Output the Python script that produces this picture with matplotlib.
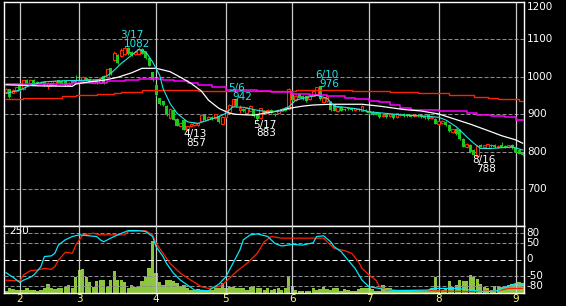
import numpy as np
import matplotlib
matplotlib.use("Agg")
import matplotlib.pyplot as plt
import matplotlib.transforms as mtransforms

plt.rcParams["font.family"] = ["DejaVu Sans"]

# daily candles, index 0 = last days of January
opens = [960, 967, 958, 963, 977, 967, 993, 983, 993, 987,
         983, 986, 977, 985, 979, 991, 990, 988, 978, 990,
         992, 986, 988, 998, 994, 985, 993, 985, 1002, 1000,
         1023, 1045, 1058, 1055, 1062, 1078, 1066, 1060, 1062, 1075,
         1066, 1050, 1012, 978, 943, 935, 922, 890, 912, 888,
         870, 886, 858, 868, 871, 872, 883, 898, 888, 893,
         890, 896, 875, 893, 907, 922, 940, 912, 915, 905,
         910, 912, 898, 890, 910, 903, 912, 902, 905, 910,
         918, 915, 958, 938, 955, 950, 948, 940, 950, 955,
         975, 932, 935, 933, 925, 908, 920, 915, 918, 916,
         912, 915, 910, 912, 910, 906, 904, 903, 895, 903,
         896, 900, 893, 898, 902, 900, 898, 895, 899, 897,
         896, 900, 889, 888, 873, 876, 880, 872, 852, 862,
         858, 834, 812, 818, 806, 790, 818, 813, 811, 818,
         818, 812, 818, 816, 812, 818, 810, 805, 797]
highs = [970, 968, 968, 973, 979, 993, 995, 995, 995, 989,
         989, 988, 986, 987, 992, 993, 992, 990, 986, 992,
         1005, 992, 1002, 1000, 996, 995, 995, 998, 1004, 1022,
         1025, 1068, 1060, 1076, 1082, 1080, 1070, 1068, 1080, 1077,
         1068, 1052, 1014, 980, 945, 937, 924, 917, 914, 890,
         880, 888, 870, 876, 879, 880, 900, 900, 896, 895,
         902, 898, 895, 914, 928, 942, 942, 925, 917, 920,
         924, 914, 900, 918, 912, 915, 914, 904, 914, 917,
         920, 970, 962, 952, 957, 952, 950, 955, 964, 974,
         976, 947, 952, 935, 927, 922, 922, 917, 920, 918,
         918, 917, 924, 914, 912, 908, 906, 905, 901, 905,
         902, 902, 905, 904, 904, 902, 900, 901, 901, 899,
         898, 902, 895, 890, 884, 884, 882, 874, 862, 864,
         860, 836, 824, 820, 808, 818, 820, 819, 822, 820,
         820, 818, 826, 818, 819, 820, 812, 807, 799]
lows = [958, 944, 956, 961, 963, 965, 982, 981, 980, 981,
        981, 976, 968, 975, 977, 983, 980, 976, 976, 981,
        983, 984, 986, 988, 984, 983, 982, 983, 982, 998,
        1005, 1043, 1034, 1053, 1058, 1058, 1056, 1058, 1060, 1060,
        1048, 1028, 990, 950, 926, 923, 896, 888, 884, 868,
        868, 859, 857, 866, 869, 870, 881, 883, 884, 886,
        888, 878, 873, 891, 905, 920, 920, 903, 906, 903,
        908, 893, 883, 888, 903, 901, 903, 896, 903, 908,
        908, 913, 936, 936, 943, 938, 933, 938, 948, 953,
        938, 930, 933, 910, 908, 906, 908, 910, 912, 910,
        910, 909, 908, 906, 902, 898, 897, 890, 893, 891,
        894, 888, 891, 896, 894, 893, 892, 893, 893, 890,
        888, 886, 887, 873, 871, 874, 869, 854, 850, 846,
        832, 812, 810, 798, 790, 788, 812, 811, 809, 813,
        810, 810, 812, 810, 810, 808, 798, 793, 790]
closes = [968, 947, 966, 972, 965, 991, 984, 993, 982, 983,
          987, 978, 983, 977, 990, 985, 982, 978, 984, 983,
          985, 990, 1000, 990, 986, 993, 984, 996, 984, 1020,
          1007, 1063, 1036, 1073, 1076, 1060, 1058, 1066, 1075, 1062,
          1050, 1030, 992, 952, 928, 925, 898, 915, 886, 870,
          878, 858, 868, 874, 877, 878, 898, 885, 892, 888,
          900, 880, 893, 912, 926, 940, 922, 916, 908, 918,
          922, 895, 887, 916, 905, 913, 905, 898, 912, 915,
          910, 968, 938, 950, 945, 940, 935, 953, 962, 972,
          940, 945, 950, 912, 910, 920, 910, 912, 914, 912,
          916, 911, 922, 908, 904, 900, 899, 892, 899, 893,
          900, 890, 903, 902, 896, 895, 894, 899, 895, 892,
          890, 888, 893, 875, 882, 882, 871, 856, 860, 848,
          834, 814, 822, 800, 792, 816, 814, 817, 820, 815,
          812, 816, 814, 812, 817, 810, 800, 795, 792]
volume = [9, 17, 14, 11, 11, 11, 17, 12, 12, 9,
          11, 17, 33, 17, 14, 17, 17, 22, 28, 20,
          61, 86, 88, 58, 42, 22, 45, 47, 47, 22,
          47, 82, 47, 47, 42, 20, 28, 22, 22, 45,
          58, 92, 195, 73, 40, 28, 50, 47, 45, 37,
          24, 30, 20, 12, 12, 14, 11, 11, 11, 11,
          17, 17, 39, 17, 24, 24, 17, 17, 17, 11,
          24, 26, 20, 20, 11, 20, 11, 14, 17, 11,
          17, 63, 26, 11, 9, 9, 9, 9, 17, 11,
          15, 24, 15, 11, 17, 17, 9, 15, 11, 9,
          9, 14, 17, 17, 20, 15, 9, 9, 30, 17,
          17, 11, 9, 9, 9, 9, 9, 9, 11, 11,
          11, 11, 17, 61, 11, 11, 17, 45, 24, 30,
          50, 46, 43, 68, 61, 52, 35, 24, 17, 11,
          26, 26, 24, 24, 30, 33, 33, 41, 37]

month_start = [4, 21, 43, 63, 82, 104, 124, 146]
month_labels = ["2", "3", "4", "5", "6", "7", "8", "9"]

# moving averages (day index -> price)
ma_short_x = [0, 4, 7, 11, 17, 23, 27, 30, 33, 36, 38, 40, 42, 44, 45, 47, 49, 52,
              55, 58, 61, 63, 65, 68, 72, 75, 78, 81, 83, 86, 89, 92, 94, 97, 101,
              104, 114, 121, 124, 126, 129, 132, 134, 136, 139, 142, 145, 148]
ma_short = [956, 965, 978, 987, 990, 991, 993, 1009, 1036, 1058, 1073, 1067, 1040, 1005,
            969, 929, 903, 880, 876, 885, 894, 903, 920, 919, 911, 907, 909, 920, 938,
            945, 951, 943, 922, 919, 914, 907, 898, 895, 892, 885, 867, 840, 823, 809,
            809, 811, 813, 805]
ma_mid_x = [0, 10, 19, 20, 24, 28, 32, 36, 39, 43, 47, 50, 53, 56, 58, 61, 64, 66, 71,
            74, 78, 81, 85, 88, 93, 98, 102, 107, 114, 119, 124, 128, 133, 138, 142,
            146, 148]
ma_mid = [979, 976, 975, 981, 987, 991, 999, 1011, 1023, 1023, 1014, 999, 983, 962,
          938, 916, 903, 900, 898, 903, 909, 916, 922, 925, 927, 927, 927, 922, 913,
          909, 901, 889, 874, 857, 843, 832, 823]
ma_13w_x = [0, 12, 19, 24, 29, 34, 38, 42, 45, 48, 52, 55, 59, 63, 68, 72, 76, 82, 87,
            92, 97, 100, 104, 107, 110, 113, 116, 124, 132, 135, 139, 143, 146, 148]
ma_13w = [980, 981, 983, 985, 988, 991, 994, 995, 993, 989, 985, 978, 973, 966, 965,
          963, 960, 955, 952, 948, 944, 940, 937, 933, 926, 918, 911, 909, 904, 898,
          895, 892, 886, 886]
ma_26w_x = [0, 5, 9, 16, 20, 26, 31, 33, 36, 39, 55, 83, 99, 110, 118, 127, 131, 134,
            138, 141, 144, 147, 148]
ma_26w = [941, 943, 945, 948, 951, 954, 956, 959, 961, 964, 963, 965, 962, 959, 956,
          953, 951, 947, 944, 942, 940, 937, 937]

# oscillator in the lower pane
osc_fast_x = [0, 2, 4, 5, 7, 8, 10, 11, 13, 14, 15, 17, 19, 21, 24, 26, 27, 28, 30, 32,
              35, 38, 40, 42, 43, 45, 46, 48, 50, 52, 54, 58, 59, 61, 63, 65, 67, 68,
              70, 72, 75, 77, 79, 82, 85, 88, 89, 91, 93, 94, 96, 98, 100, 102, 104,
              107, 108, 112, 121, 122, 129, 133, 137, 141, 142, 144, 146, 148]
osc_fast = [-40, -54, -70, -63, -54, -47, -22, 9, 11, 19, 44, 60, 70, 75, 72, 70, 60,
            54, 65, 75, 88, 88, 85, 70, 39, 9, -12, -42, -63, -78, -93, -95, -88, -75,
            -52, -12, 29, 60, 75, 78, 70, 49, 41, 46, 44, 51, 70, 72, 54, 39, 24, -2,
            -27, -63, -83, -88, -91, -95, -93, -88, -88, -93, -98, -95, -88, -81, -73,
            -75]
osc_slow_x = [0, 4, 5, 7, 9, 11, 13, 14, 15, 17, 19, 20, 22, 25, 27, 34, 35, 40, 42, 43,
              45, 47, 50, 53, 56, 58, 61, 63, 66, 69, 72, 74, 76, 79, 88, 91, 93, 94,
              97, 99, 101, 102, 104, 106, 107, 109, 121, 133, 141, 144, 148]
osc_slow = [-63, -65, -47, -34, -32, -27, -30, -22, -2, 22, 19, 44, 75, 80, 75, 75, 85,
            88, 75, 49, 19, -12, -42, -63, -83, -88, -83, -68, -37, -12, 19, 54, 70,
            65, 65, 65, 44, 34, 27, 19, -7, -27, -47, -63, -83, -93, -95, -98, -95,
            -88, -88]

# highs / lows marked on the chart
mark_idx = [34, 52, 65, 72, 90, 135]
mark_date = ["3/17", "4/13", "5/6", "5/17", "6/10", "8/16"]
mark_price = [1082, 857, 942, 883, 976, 788]
mark_is_high = [True, False, True, False, True, False]

price_ticks = [700, 800, 900, 1000, 1100, 1200]
osc_ticks = [80, 50, 0, -50, -80]

UP = "#ff2a00"
DOWN = "#1ec81e"
CYAN = "#20e8e8"
GRID = "#8c8c8c"
VLINE = "#c8c8c8"
VOL = "#8cc63c"
FS = 7.5

W, H = 566, 306
fig = plt.figure(figsize=(W / 100, H / 100), dpi=100, facecolor="black")
ax = fig.add_axes([4 / W, 1 - 226 / H, 520 / W, 224 / H], facecolor="black")
ax_lo = fig.add_axes([4 / W, 1 - 293 / H, 520 / W, 67 / H], facecolor="black")
ax_osc = ax_lo.twinx()

x = np.arange(len(opens))
o = np.array(opens, float)
h = np.array(highs, float)
l = np.array(lows, float)
c = np.array(closes, float)
up = c >= o

for a in (ax, ax_lo, ax_osc):
    a.set_xlim(-0.57, 148.4)
for a in (ax, ax_lo):
    for s in a.spines.values():
        s.set_color("white")
        s.set_linewidth(1.0)
for s in ax_osc.spines.values():
    s.set_visible(False)

# --- price pane ---
ax.set_ylim(602, 1200)
for v in price_ticks[:-1]:
    ax.axhline(v, color=GRID, lw=0.72, dashes=(4, 2), zorder=1)
for m in month_start:
    ax.axvline(m, color=VLINE, lw=0.9, zorder=1)

ax.vlines(x[up], l[up], h[up], color=UP, lw=0.8, zorder=3)
ax.vlines(x[~up], l[~up], h[~up], color=DOWN, lw=0.8, zorder=3)
body = np.maximum(np.abs(c - o), 1.5)
ax.bar(x[up], body[up], bottom=o[up], width=0.78, facecolor="black",
       edgecolor=UP, linewidth=0.8, zorder=3)
ax.bar(x[~up], body[~up], bottom=c[~up], width=0.88, color=DOWN, linewidth=0, zorder=3)

ax.plot(ma_26w_x, ma_26w, color="#ff2000", lw=1.0, drawstyle="steps-post", zorder=4)
ax.plot(ma_13w_x, ma_13w, color="#ff00ff", lw=1.1, drawstyle="steps-post", zorder=4)
ax.plot(ma_mid_x, ma_mid, color="white", lw=0.9, zorder=4)
ax.plot(ma_short_x, ma_short, color=CYAN, lw=0.8, zorder=5)

for i, d, p, hi in zip(mark_idx, mark_date, mark_price, mark_is_high):
    col = CYAN if hi else "white"
    dy_d, dy_p = (11, 2) if hi else (-4, -12.5)
    ax.annotate(d, (i, p), xytext=(-4.5, dy_d), textcoords="offset pixels",
                ha="left", va="center", color=col, fontsize=FS, zorder=6)
    ax.annotate(str(p), (i, p), xytext=(-1, dy_p), textcoords="offset pixels",
                ha="left", va="center", color=col, fontsize=FS, zorder=6)

ax.set_xticks([])
ax.set_yticks([])
ytr = mtransforms.blended_transform_factory(ax.transAxes, ax.transData)
for v in price_ticks:
    ax.text(1.0058, v, str(v), transform=ytr, color="white", fontsize=FS,
            ha="left", va="top" if v == 1200 else "center")

# --- volume + oscillator pane ---
ax_lo.set_ylim(0, 250)
ax_lo.bar(x, volume, width=0.95, color=VOL, linewidth=0, zorder=2)
ax_lo.set_yticks([])
ax_lo.set_xticks(month_start)
ax_lo.set_xticklabels(month_labels)
ax_lo.tick_params(axis="x", length=0, pad=0.5, labelcolor="#ffff88", labelsize=FS)

ax_osc.set_ylim(-102, 102)
for v in osc_ticks:
    if v == 0:
        ax_osc.axhline(v, color="white", lw=0.72, dashes=(5, 3), zorder=1)
    else:
        ax_osc.axhline(v, color=GRID, lw=0.72, dashes=(4, 2), zorder=1)
for m in month_start:
    ax_osc.axvline(m, color=VLINE, lw=0.9, zorder=1)
ax_osc.plot(osc_slow_x, osc_slow, color="#ff2000", lw=0.9, zorder=3)
ax_osc.plot(osc_fast_x, osc_fast, color="#00eaff", lw=0.9, zorder=3)
ax_osc.set_yticks([])
otr = mtransforms.blended_transform_factory(ax_osc.transAxes, ax_osc.transData)
for v in osc_ticks:
    ax_osc.text(1.0045, v, str(v), transform=otr, color="white", fontsize=FS,
                ha="left", va="center")

fig.text(9 / W, 1 - 231.5 / H, "250", color="white", fontsize=FS, ha="left", va="center")

fig.savefig("out.png", dpi=100, facecolor="black")
